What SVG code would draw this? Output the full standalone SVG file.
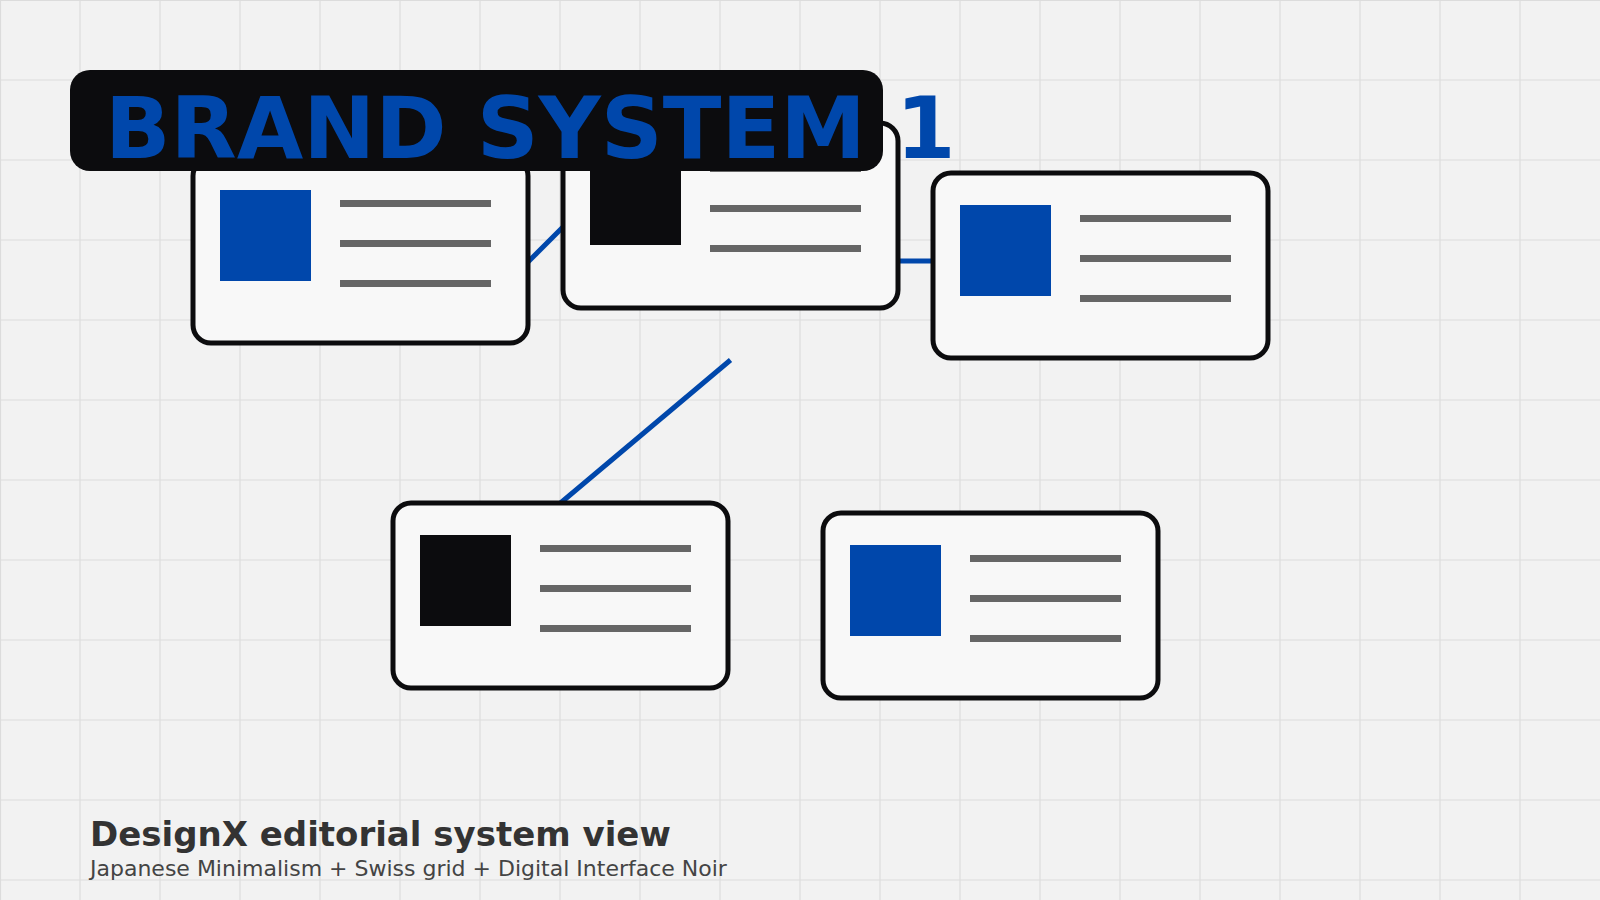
<svg xmlns="http://www.w3.org/2000/svg" width="1600" height="900" viewBox="0 0 1600 900">
  <defs>
    <style>
      .grid { stroke: #dcdcdc; stroke-width: 1.2; fill: none; }
      .conn { stroke: #0047ab; stroke-width: 5; fill: none; }
      .card { fill: #f8f8f8; stroke: #0c0c0e; stroke-width: 5; }
      .blue { fill: #0047ab; }
      .noir { fill: #0c0c0e; }
      .bar { fill: #666666; }
      .title { font-family: "DejaVu Sans", "Liberation Sans", sans-serif; font-weight: bold; font-size: 86px; fill: #0047ab; }
      .head { font-family: "DejaVu Sans", "Liberation Sans", sans-serif; font-weight: bold; font-size: 34px; fill: #333333; }
      .sub { font-family: "DejaVu Sans", "Liberation Sans", sans-serif; font-size: 22px; fill: #444444; }
    </style>
    <g id="bars">
      <rect class="bar" x="147" y="42" width="151" height="7"/>
      <rect class="bar" x="147" y="82" width="151" height="7"/>
      <rect class="bar" x="147" y="122" width="151" height="7"/>
    </g>
  </defs>
  <rect x="0" y="0" width="1600" height="900" fill="#f2f2f2"/>
  <path class="grid" d="M0.5 0V900M80 0V900M160 0V900M240 0V900M320 0V900M400 0V900M480 0V900M560 0V900M640 0V900M720 0V900M800 0V900M880 0V900M960 0V900M1040 0V900M1120 0V900M1200 0V900M1280 0V900M1360 0V900M1440 0V900M1520 0V900M0 0.5H1600M0 80H1600M0 160H1600M0 240H1600M0 320H1600M0 400H1600M0 480H1600M0 560H1600M0 640H1600M0 720H1600M0 800H1600M0 880H1600"/>
  <g id="connectors">
    <line class="conn" x1="500" y1="290" x2="590" y2="200"/>
    <line class="conn" x1="880" y1="261" x2="950" y2="261"/>
    <line class="conn" x1="730.5" y1="360" x2="560.5" y2="503"/>
  </g>
  <g id="card-1" transform="translate(193,158)">
    <rect class="card" x="0" y="0" width="335" height="185" rx="18"/>
    <rect class="blue" x="27" y="32" width="91" height="91"/>
    <use href="#bars"/>
  </g>
  <g id="card-2" transform="translate(563,123)">
    <rect class="card" x="0" y="0" width="335" height="185" rx="18"/>
    <rect class="noir" x="27" y="31" width="91" height="91"/>
    <use href="#bars"/>
  </g>
  <g id="card-3" transform="translate(933,173)">
    <rect class="card" x="0" y="0" width="335" height="185" rx="18"/>
    <rect class="blue" x="27" y="32" width="91" height="91"/>
    <use href="#bars"/>
  </g>
  <g id="card-4" transform="translate(393,503)">
    <rect class="card" x="0" y="0" width="335" height="185" rx="18"/>
    <rect class="noir" x="27" y="32" width="91" height="91"/>
    <use href="#bars"/>
  </g>
  <g id="card-5" transform="translate(823,513)">
    <rect class="card" x="0" y="0" width="335" height="185" rx="18"/>
    <rect class="blue" x="27" y="32" width="91" height="91"/>
    <use href="#bars"/>
  </g>
  <g id="title">
    <rect x="70" y="70" width="813" height="101" rx="20" fill="#0c0c0e"/>
    <text class="title" x="105" y="158">BRAND SYSTEM 1</text>
  </g>
  <g id="caption">
    <text class="head" x="90" y="846">DesignX editorial system view</text>
    <text class="sub" x="90" y="876">Japanese Minimalism + Swiss grid + Digital Interface Noir</text>
  </g>
</svg>
